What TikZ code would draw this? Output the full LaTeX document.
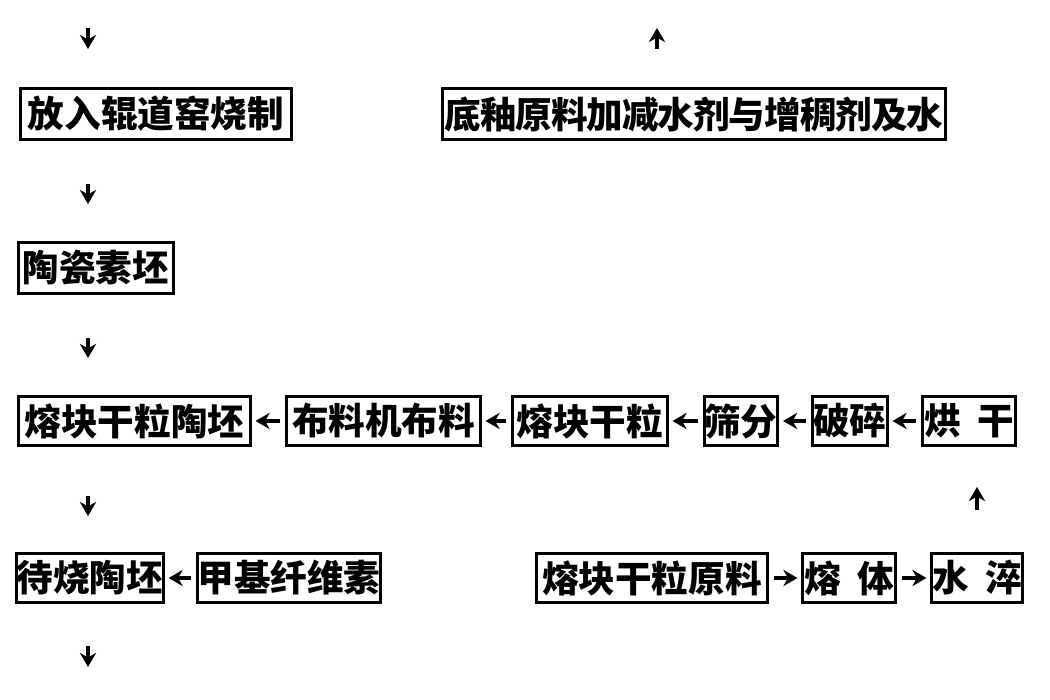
\documentclass[tikz,border=0pt]{standalone}
\usepackage{fontspec}
\newfontfamily\cjk{Noto Sans CJK SC}
\usetikzlibrary{arrows.meta}
\newcommand\spch[1]{\makebox[0.355cm]{#1}}
\begin{document}
\begin{tikzpicture}[x=0.01cm,y=-0.01cm,
  box/.style={draw=black,line width=0.85pt,inner sep=0pt,minimum height=0.48cm,
    font=\cjk\bfseries\fontsize{10.4pt}{12pt}\selectfont,text=black},
  arr/.style={line width=0.95pt,-{Stealth[length=4pt,width=4.6pt]}},
  harr/.style={arr,shorten <=0.05cm,shorten >=0.04cm}]
\useasboundingbox (0,0) rectangle (1050,700);
% nodes
\node[box,minimum width=2.71cm,minimum height=0.5cm] (kiln) at (156,114) {放入辊道窑烧制};
\node[box,minimum width=5.02cm,minimum height=0.5cm] (glaze) at (694,114) {\spch{底}\spch{釉}\spch{原}\spch{料}\spch{加}\spch{减}\spch{水}\spch{剂}\spch{与}\spch{增}\spch{稠}\spch{剂}\spch{及}\spch{水}};
\node[box,minimum width=1.55cm,minimum height=0.5cm] (bisque) at (96,268) {陶瓷素坯};
\node[box,minimum width=2.31cm] (fgtp) at (134.5,421) {熔块干粒陶坯};
\node[box,minimum width=1.93cm] (blj) at (383.5,421) {布料机布料};
\node[box,minimum width=1.54cm] (fg) at (590,421) {熔块干粒};
\node[box,minimum width=0.72cm] (sf) at (741,421) {筛分};
\node[box,minimum width=0.74cm] (ps) at (850,421) {破碎};
\node[box,minimum width=0.92cm] (hg) at (969,421) {烘\hspace{0.45em}干};
\node[box,minimum width=1.44cm] (dstp) at (90,578) {待烧陶坯};
\node[box,minimum width=1.82cm] (jj) at (289,578) {甲基纤维素};
\node[box,minimum width=2.30cm] (fgyl) at (652,578) {熔块干粒原料};
\node[box,minimum width=0.92cm] (rt) at (849,578) {熔\hspace{0.45em}体};
\node[box,minimum width=0.90cm] (sc) at (977,578) {水\hspace{0.45em}淬};
% horizontal connectors
\draw[harr] (blj) -- (fgtp);
\draw[harr] (fg) -- (blj);
\draw[harr] (sf) -- (fg);
\draw[harr] (ps) -- (sf);
\draw[harr] (hg) -- (ps);
\draw[harr] (jj) -- (dstp);
\draw[harr] (fgyl) -- (rt);
\draw[harr] (rt) -- (sc);
% free-standing vertical arrows
\coordinate (v1a) at (88,28);  \coordinate (v1b) at (88,49);
\coordinate (v2a) at (657,49); \coordinate (v2b) at (657,28);
\coordinate (v3a) at (88,184); \coordinate (v3b) at (88,204);
\coordinate (v4a) at (88,338); \coordinate (v4b) at (88,358);
\coordinate (v5a) at (88,496); \coordinate (v5b) at (88,516);
\coordinate (v6a) at (977,510); \coordinate (v6b) at (977,487);
\coordinate (v7a) at (88,646); \coordinate (v7b) at (88,667);
\draw[arr] (v1a) -- (v1b);
\draw[arr] (v2a) -- (v2b);
\draw[arr] (v3a) -- (v3b);
\draw[arr] (v4a) -- (v4b);
\draw[arr] (v5a) -- (v5b);
\draw[arr] (v6a) -- (v6b);
\draw[arr] (v7a) -- (v7b);
\end{tikzpicture}
\end{document}
